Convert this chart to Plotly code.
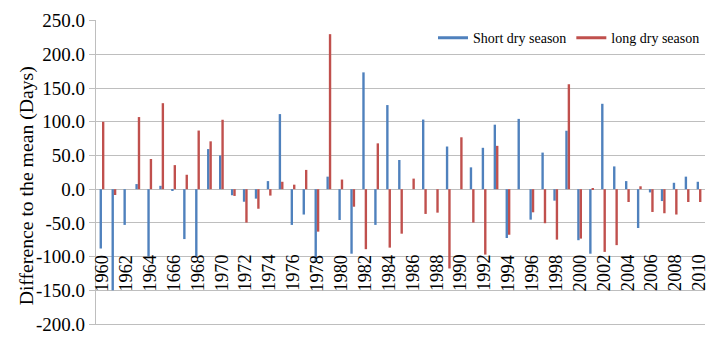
import plotly.graph_objects as go

# Seasons, one bar pair per year
years = [1960, 1961, 1962, 1963, 1964, 1965, 1966, 1967, 1968, 1969,
         1970, 1971, 1972, 1973, 1974, 1975, 1976, 1977, 1978, 1979,
         1980, 1981, 1982, 1983, 1984, 1985, 1986, 1987, 1988, 1989,
         1990, 1991, 1992, 1993, 1994, 1995, 1996, 1997, 1998, 1999,
         2000, 2001, 2002, 2003, 2004, 2005, 2006, 2007, 2008, 2009, 2010]

short_dry = [-88, -150, -53, 7.6, -100, 5, -2, -74, -100, 59.5,
             50, -9, -18.6, -14, 12, 111.4, -53, -37.6, -108, 18.6,
             -45.7, -95.7, 173.3, -53, 124.8, 43.3, 0, 103.3, 0, 63.3,
             0, 32.4, 61.4, 95.7, -72.4, 104.3, -45.2, 54.3, -17, 86.7,
             -75.7, -95.7, 126.7, 33.8, 12, -57.6, -4.8, -17.6, 9.5, 18.6, 11]

long_dry = [100, -8.6, 0, 107, 44.8, 127.6, 35.7, 21.4, 87, 71,
            103, -10, -49.5, -29, -9.5, 11, 6.7, 28.6, -63, 230,
            14.3, -26, -89, 68, -86.7, -66, 15.7, -36.7, -34.8, -117.6,
            77, -49.5, -97, 64.3, -67.6, 0, -34.3, -50.5, -74.8, 155.7,
            -73.3, 1.4, -93, -83, -19, 4.3, -33.8, -35.7, -37.6, -19, -19]

# Category labels (every second year)
label_years = [1960, 1962, 1964, 1966, 1968, 1970, 1972, 1974, 1976, 1978,
               1980, 1982, 1984, 1986, 1988, 1990, 1992, 1994, 1996, 1998,
               2000, 2002, 2004, 2006, 2008, 2010]
label_text = ["1960", "1962", "1964", "1666", "1968", "1970", "1972", "1974",
              "1976", "1978", "1980", "1982", "1984", "1986", "1988", "1990",
              "1992", "1994", "1996", "1998", "2000", "2002", "2004", "2006",
              "2008", "2010"]
label_level = -124

# Value axis ticks
y_ticks = [-200, -150, -100, -50, 0, 50, 100, 150, 200, 250]
y_tick_text = ["-200.0", "-150.0", "-100.0", "-50.0", "0.0",
               "50.0", "100.0", "150.0", "200.0", "250.0"]

BLUE = "#4F81BD"
RED = "#C0504D"
GRID = "#BEBEBE"
FONT = "Times New Roman, Liberation Serif, Times, serif"

fig = go.Figure()
fig.add_trace(go.Bar(x=years, y=short_dry, name="Short dry season",
                     marker=dict(color=BLUE, line=dict(width=0)), showlegend=False))
fig.add_trace(go.Bar(x=years, y=long_dry, name="long dry season",
                     marker=dict(color=RED, line=dict(width=0)), showlegend=False))

# line-style legend entries
fig.add_trace(go.Scatter(x=[None], y=[None], mode="lines", name="Short dry season",
                         line=dict(color=BLUE, width=3)))
fig.add_trace(go.Scatter(x=[None], y=[None], mode="lines", name="long dry season",
                         line=dict(color=RED, width=3)))

for yr, txt in zip(label_years, label_text):
    fig.add_annotation(x=yr, y=label_level, xref="x", yref="y", text=txt,
                       textangle=-90, showarrow=False, xanchor="center",
                       yanchor="middle", font=dict(family=FONT, size=18.3, color="black"))

fig.add_annotation(x=-0.115, y=0.456, xref="paper", yref="paper",
                   text="Difference to the mean (Days)", textangle=-90,
                   showarrow=False, xanchor="center", yanchor="middle",
                   font=dict(family=FONT, size=19.7, color="black"))

fig.update_layout(
    width=712, height=341,
    margin=dict(l=96, r=7, t=20, b=6),
    paper_bgcolor="white", plot_bgcolor="white",
    barmode="group", bargap=0.6, bargroupgap=0,
    font=dict(family=FONT, color="black"),
    legend=dict(orientation="h", x=1, xanchor="right", y=0.94, yanchor="middle",
                bgcolor="rgba(255,255,255,0)", font=dict(family=FONT, size=14),
                itemwidth=30, tracegroupgap=0),
    xaxis=dict(range=[1959.5, 2010.5], showticklabels=False, showgrid=False,
               zeroline=False, showline=True, linecolor=GRID, linewidth=1.3,
               mirror=False, ticks=""),
    yaxis=dict(range=[-200, 251], tickvals=y_ticks, ticktext=y_tick_text,
               showgrid=True, gridcolor=GRID, gridwidth=1.3,
               zeroline=True, zerolinecolor=GRID, zerolinewidth=1.3,
               showline=True, linecolor=GRID, linewidth=1.3,
               ticks="outside", ticklen=6, tickcolor=GRID, tickwidth=1.3,
               ticklabeloverflow="allow",
               tickfont=dict(family=FONT, size=19, color="black")),
)

fig.write_html("out.html")
